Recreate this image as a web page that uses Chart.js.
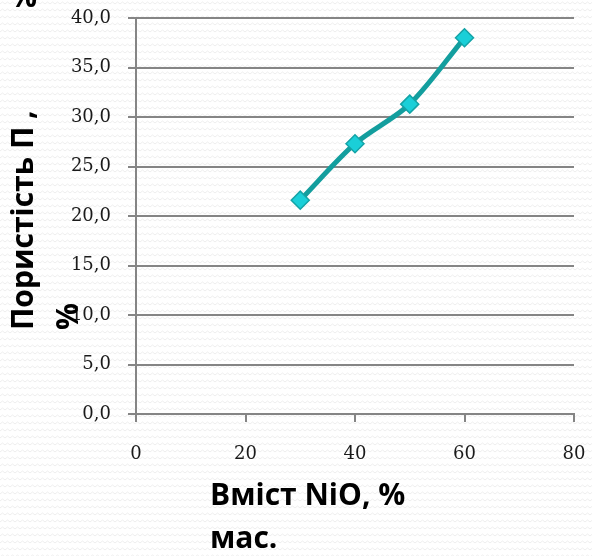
<!DOCTYPE html>
<html>
<head>
<meta charset="utf-8">
<script src="https://cdn.jsdelivr.net/npm/chart.js@4/dist/chart.umd.min.js"></script>
<style>
  html, body { margin: 0; padding: 0; background: #ffffff; }
  #wrap { width: 592px; height: 556px; }
</style>
</head>
<body>
<div id="wrap"><canvas id="c" width="592" height="556"></canvas></div>
<script>
// ---- data ----
const nioContent = [30, 40, 50, 60];            // Вміст NiO, % мас.
const porosity   = [21.6, 27.3, 31.3, 38.0];    // Пористість П, %
const xTickLabels = ['0', '20', '40', '60', '80'];
const yTickLabels = ['0,0', '5,0', '10,0', '15,0', '20,0', '25,0', '30,0', '35,0', '40,0'];
const yTitleLines = ['Пористість П ,', '%'];
const xTitleLines = ['Вміст NiO, %', 'мас.'];
const strayText = '%';

const titleFont = 'bold 30px "Open Sans"';
const tickFont = { family: '"DejaVu Serif"', size: 18 };

const bgPattern = {
  id: 'bgPattern',
  beforeDraw(chart) {
    const ctx = chart.ctx;
    const p = document.createElement('canvas');
    p.width = 10; p.height = 7;
    const pc = p.getContext('2d');
    pc.fillStyle = '#ffffff';
    pc.fillRect(0, 0, 10, 7);
    pc.strokeStyle = 'rgba(0,0,0,0.07)';
    pc.lineWidth = 1;
    pc.beginPath();
    pc.moveTo(0, 4); pc.lineTo(2.5, 2); pc.lineTo(5, 4); pc.lineTo(7.5, 2); pc.lineTo(10, 4);
    pc.stroke();
    ctx.save();
    ctx.fillStyle = ctx.createPattern(p, 'repeat');
    ctx.fillRect(0, 0, chart.width, chart.height);
    ctx.restore();
  }
};

const axisTitles = {
  id: 'axisTitles',
  afterDraw(chart) {
    const ctx = chart.ctx;
    ctx.save();
    ctx.font = titleFont;
    ctx.fillStyle = '#000000';
    ctx.textAlign = 'left';
    ctx.textBaseline = 'alphabetic';
    // x title
    ctx.fillText(xTitleLines[0], 210, 505);
    ctx.fillText(xTitleLines[1], 210, 548);
    // stray percent at top-left
    ctx.fillText(strayText, 10, 7);
    // y title (rotated)
    ctx.translate(33, 330);
    ctx.rotate(-Math.PI / 2);
    ctx.fillText(yTitleLines[0], 0, 0);
    ctx.fillText(yTitleLines[1], 0, 45);
    ctx.restore();
  }
};

new Chart(document.getElementById('c'), {
  type: 'line',
  data: {
    datasets: [{
      data: nioContent.map((x, i) => ({ x: x, y: porosity[i] })),
      borderColor: '#139E9E',
      borderWidth: 5,
      tension: 0.3,
      pointStyle: 'rectRot',
      pointRadius: 9,
      pointHoverRadius: 9,
      pointBackgroundColor: '#1ACFD8',
      pointBorderColor: '#14A3A6',
      pointBorderWidth: 1.5,
      fill: false
    }]
  },
  options: {
    responsive: false,
    animation: false,
    events: [],
    layout: { padding: { top: 18, right: 18, bottom: 0, left: 0 } },
    plugins: { legend: { display: false }, tooltip: { enabled: false } },
    scales: {
      x: {
        type: 'linear',
        min: 0, max: 80,
        ticks: {
          stepSize: 20,
          padding: 22,
          color: '#1a1a1a',
          font: tickFont,
          maxRotation: 0,
          callback: (v, i) => xTickLabels[i]
        },
        grid: { drawOnChartArea: false, drawTicks: true, tickLength: 8, color: '#858585', lineWidth: 2 },
        border: { display: true, color: '#858585', width: 2 },
        afterFit: (s) => { s.height = 142; s.paddingLeft = 0; s.paddingRight = 0; }
      },
      y: {
        type: 'linear',
        min: 0, max: 40,
        ticks: {
          stepSize: 5,
          padding: 17,
          color: '#1a1a1a',
          font: tickFont,
          callback: (v, i) => yTickLabels[i]
        },
        grid: { drawOnChartArea: true, drawTicks: true, tickLength: 8, color: '#858585', lineWidth: 2 },
        border: { display: true, color: '#858585', width: 2 },
        afterFit: (s) => { s.width = 136; s.paddingTop = 0; s.paddingBottom = 0; }
      }
    }
  },
  plugins: [bgPattern, axisTitles]
});
</script>
</body>
</html>
